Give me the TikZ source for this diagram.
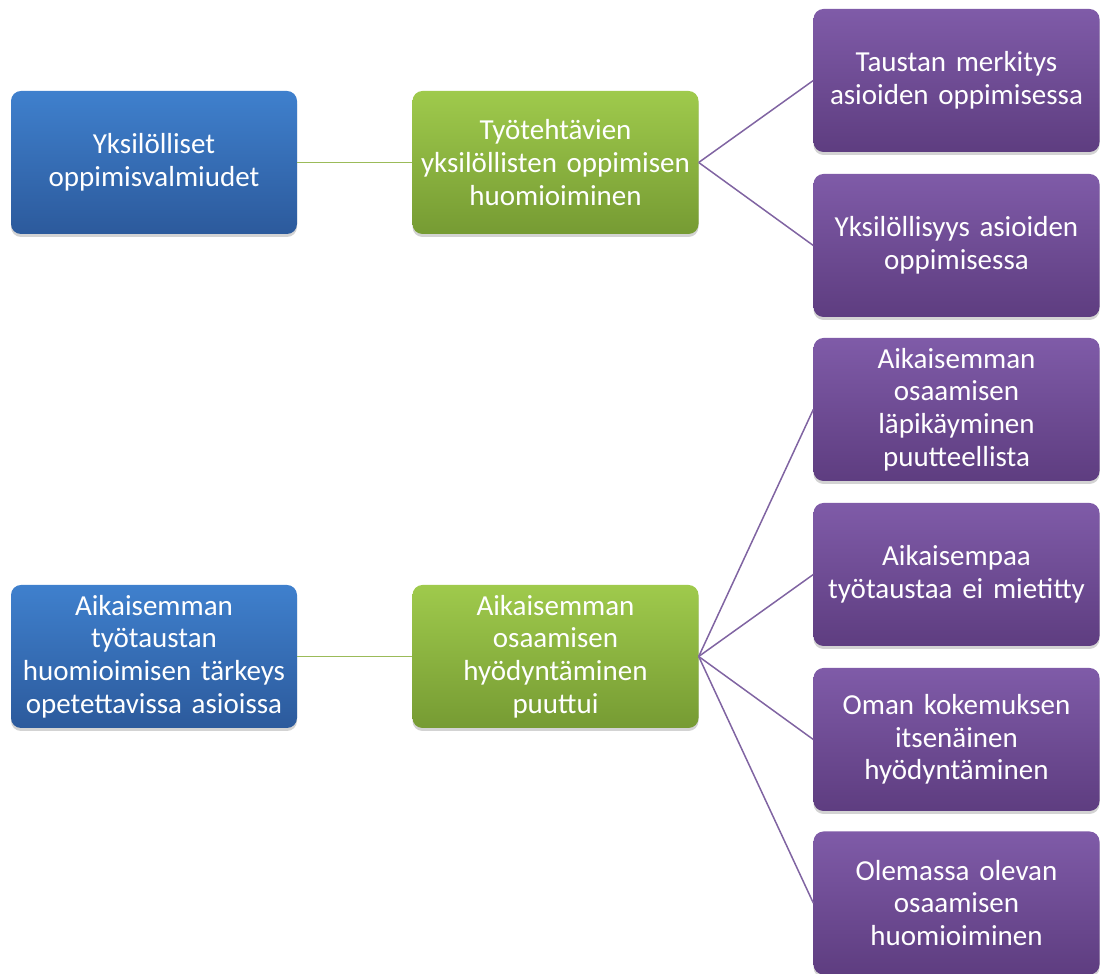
\documentclass[tikz,border=0pt]{standalone}
\usepackage{fontspec}
\setmainfont{Carlito}
\usetikzlibrary{shadows}
\definecolor{bluetop}{HTML}{3F80CD}
\definecolor{bluebot}{HTML}{2C5A9C}
\definecolor{greentop}{HTML}{9FCA4C}
\definecolor{greenbot}{HTML}{769B33}
\definecolor{purptop}{HTML}{7F5BA8}
\definecolor{purpbot}{HTML}{5E3D80}
\definecolor{greenline}{HTML}{9BBB59}
\definecolor{purpline}{HTML}{8064A2}
\tikzset{
  box/.style={rounded corners=10pt, minimum width=286pt, minimum height=143pt,
    text width=282pt, align=center, inner sep=0pt, text=white,
    font=\fontsize{29}{32.6}\selectfont,
    drop shadow={opacity=0.35, shadow xshift=0pt, shadow yshift=-3pt}},
  bluebox/.style={box, top color=bluetop, bottom color=bluebot},
  greenbox/.style={box, top color=greentop, bottom color=greenbot},
  purpbox/.style={box, top color=purptop, bottom color=purpbot},
  gline/.style={draw=greenline, line width=1.5pt},
  pline/.style={draw=purpline, line width=1.5pt}
}
\begin{document}
\begin{tikzpicture}[x=1pt,y=1pt]
\useasboundingbox (0,0) rectangle (1101,974);
\node[bluebox] (b1) at (154,811.5) {Yksilölliset\\oppimisvalmiudet};
\node[greenbox] (g1) at (555.5,811.5) {Työtehtävien\\yksilöllisten oppimisen\\huomioiminen};
\node[purpbox] (p1) at (956.5,893.5) {Taustan merkitys\\asioiden oppimisessa};
\node[purpbox] (p2) at (956.5,728.5) {Yksilöllisyys asioiden\\oppimisessa};
\node[bluebox] (b2) at (154,317.5) {Aikaisemman\\työtaustan\\huomioimisen tärkeys\\opetettavissa asioissa};
\node[greenbox] (g2) at (555.5,317.5) {Aikaisemman\\osaamisen\\hyödyntäminen\\puuttui};
\node[purpbox] (p3) at (956.5,564.5) {Aikaisemman\\osaamisen\\läpikäyminen\\puutteellista};
\node[purpbox] (p4) at (956.5,399.5) {Aikaisempaa\\työtaustaa ei mietitty};
\node[purpbox] (p5) at (956.5,234.5) {Oman kokemuksen\\itsenäinen\\hyödyntäminen};
\node[purpbox] (p6) at (956.5,71) {Olemassa olevan\\osaamisen\\huomioiminen};
\draw[gline] (b1.east) -- (g1.west);
\draw[gline] (b2.east) -- (g2.west);
\draw[pline] (g1.east) -- (p1.west);
\draw[pline] (g1.east) -- (p2.west);
\draw[pline] (g2.east) -- (p3.west);
\draw[pline] (g2.east) -- (p4.west);
\draw[pline] (g2.east) -- (p5.west);
\draw[pline] (g2.east) -- (p6.west);
\end{tikzpicture}
\end{document}
